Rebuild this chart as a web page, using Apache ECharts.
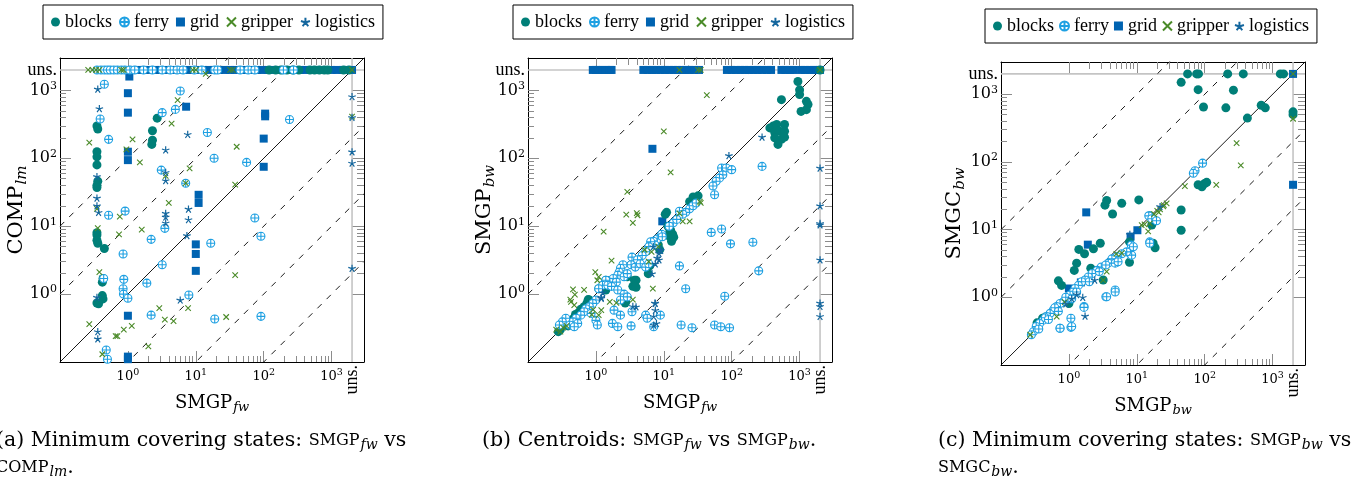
<!DOCTYPE html>
<html>
<head>
<meta charset="utf-8">
<script src="https://cdn.jsdelivr.net/npm/echarts@6/dist/echarts.min.js"></script>
<style>
  html, body { margin: 0; padding: 0; background: #fff; }
  #chart { width: 1353px; height: 478px; }
</style>
</head>
<body>
<div id="chart"></div>
<script>
// "uns." (unsolved) is drawn at this value on both axes
var U = 2000;

// ---- panel (a): SMGP_fw vs COMP_lm ----
var aBlocks = [[0.35,300],[0.36,270],[0.35,125],[0.35,105],[0.35,80],[0.36,46],[0.35,40],[0.35,37],[0.35,8],[0.35,7.4],
  [0.35,6.2],[0.36,5.6],[0.45,4.7],[0.43,1.7],[0.42,1.5],[0.42,0.95],[0.43,0.85],[0.35,0.74],[0.37,0.72],
  [2.7,390],[2.3,255],[2.3,185],[2.25,160],
  [120,U],[150,U],[180,U],[220,U],[270,U],[330,U],[480,U],[560,U],[660,U],[780,U],[880,U],[1500,U],[1800,U]];
var aFerry = [[0.45,1230],[0.39,380],[0.52,190],[5.9,980],[3.2,470],[5.0,525],[14.8,240],[18.6,100],[56,87],[240,372],
  [3.1,67],[7.1,43],[0.52,14.5],[0.91,16.7],[3.5,9.3],[2.2,6.4],[0.85,3.9],[16.6,5.6],[74,13.2],[91,7.1],[3.2,2.7],
  [0.44,1.7],[0.87,1.65],[0.85,1.2],[0.86,1.0],[1.0,0.87],[1.9,1.45],[7.9,0.97],[2.2,0.49],[19,0.43],[91,0.47],
  [0.48,0.15],[0.5,0.11],
  [0.35,U],[0.4,U],[0.45,U],[0.5,U],[0.55,U],[0.62,U],[0.7,U],[0.8,U],[0.9,U],
  [1.07,U],[1.26,U],[1.7,U],[2.3,U],[3.2,U],[4.2,U],[5.3,U],[6.5,U],[9.5,U],[12.3,U],[19,U],[21,U],
  [45,U],[59,U],[74,U],[195,U],[275,U]];
var aGrid = [[1.05,1600],[1.0,910],[1.0,470],[1.0,125],[1.0,94],[7.2,575],[11,29],[11,22],[10,5.4],[10,3.9],[10,2.2],
  [105,415],[105,455],[100,195],[100,75],[1.0,0.48],[1.0,0.12],[1.0,0.11],
  [1,U],[1.2,U],[1.45,U],[1.7,U],[2.1,U],[2.5,U],[3,U],[3.6,U],[4.3,U],[5.2,U],[6.2,U],[7.5,U],[9,U],[11,U],[13,U],
  [15.5,U],[18.5,U],[22,U],[27,U],[32,U],[38,U],[46,U],[55,U],[66,U],[80,U],[95,U],[115,U],[135,U],[165,U],[200,U],
  [240,U],[285,U],[340,U],[410,U],[490,U],[590,U],[700,U],[840,U],[1000,U],[1200,U],[1450,U],[1750,U],[2000,U]];
var aGripper = [[14,1750],[5.4,720],[4.4,325],[0.27,170],[1.17,190],[0.95,135],[1.5,87],[3.6,55],[8.1,71],[7.1,43],[4,22],
  [40,148],[38,41],[0.35,18],[0.36,9.4],[0.76,13.8],[1.6,8.9],[0.74,7.6],[0.38,2.1],[38,1.9],[0.27,0.36],[0.42,0.13],
  [0.66,0.24],[0.7,0.24],[0.87,0.3],[1.14,0.34],[2,0.17],[2.9,0.62],[3.5,0.42],[4.7,0.4],[7.7,0.62],[28,0.46],[U,410],
  [0.26,U],[0.3,U],[0.34,U],[0.38,U],[0.8,U],[0.86,U],[9,U],[10,U],[32,U],[35,U],[U,U]];
var aLogistics = [[0.36,1050],[0.38,540],[7.6,225],[3.6,133],[0.35,54],[3.6,62],[3.6,47],[0.35,26],[0.35,20],[0.37,16],
  [3.6,15.5],[3.6,13.7],[3.6,11.2],[7.8,17.9],[7.8,12.5],[7.4,7.3],[5.9,0.82],[0.35,0.9],[0.36,0.28],[0.36,0.22],
  [U,810],[U,125],[U,85],[U,2.4],[U,400]];

// ---- panel (b): SMGP_fw vs SMGP_bw ----
var bBlocks = [[944,1350],[1000,1020],[1000,870],[540,730],[1260,690],[1330,620],[1260,520],[1050,490],
  [365,280],[410,300],[460,315],[600,315],[430,240],[500,250],[600,250],[430,200],[540,190],[480,160],[600,205],[U,U],
  [32,28],[29,26],[24,23],[27,27],[11,16],[11.5,10],[12.3,8.4],[12.3,7],[13,6],[8.7,4.5],[8.3,5.3],[6.2,2.6],[5.9,2.0],
  [3.7,1.6],[3.5,1.3],[1.4,1.6],[1.3,1.3],[1.4,1.15],[2.7,0.74],[0.77,0.83],[0.74,0.74],[0.55,0.53],[0.42,0.37],
  [0.39,0.34],[0.3,0.3],[0.28,0.28],[10.5,15],[12.6,8.7],[13.5,7.6],[14,6.9],[2.9,1.8],[3.9,1.6],[3.9,1.26],
  [2.75,0.77],[1.3,1.35],[1.1,1.2],[0.8,0.82],[0.67,0.65],[0.6,0.6],[0.5,0.5],[0.47,0.44],[0.4,0.4],[0.36,0.37]];
var bFerry = [[280,76],[71,72],[83,72],[100,68],[74,57],[66,51],[59,46],[53,39],[56,29],[24,18],[21,16],[27,20],[30,22],
  [17,16.6],[19,15],[50,8.1],[71,9.1],[96,5.5],[205,5.8],[250,2.2],[17,2.6],[21,1.2],[79,0.93],[18,0.35],[26,0.32],
  [56,0.35],[69,0.33],[93,0.32],[9.3,7.6],[13.8,11.2],[15.5,12.6],[12,10],[8,6.5],[7,6],[7.4,5.3],
  [9.5,7],[6.4,5.9],[6,5],[5.4,4.2],[4.8,3.7],[3.4,3.5],[4.1,3.2],[3.3,2.7],[3.8,2.5],[4.5,2.8],[5.4,2.5],[6,2.8],
  [2.5,2.7],[2.3,2.4],[2.2,2.1],[2.1,1.9],[1.8,1.7],[1.6,1.5],[2,1.5],[2.6,1.8],[2.9,2],[1.4,1.6],[1.25,1.35],
  [1.1,1.2],[1.5,1.35],[1.7,1.3],[2.1,1.15],[2.6,1.0],[2.3,0.82],[2.9,0.91],[1,0.82],[0.9,0.73],[0.8,0.65],
  [0.71,0.61],[0.67,0.55],[0.6,0.49],[0.51,0.44],[0.46,0.39],[0.41,0.35],[0.54,0.37],[0.48,0.33],[0.85,0.52],
  [1,0.41],[1.05,0.35],[1.85,0.58],[2.3,0.49],[3.4,0.55],[5.4,0.49],[5.7,0.44],[8.9,0.49],[1.75,0.37],[2.1,0.33],
  [3.3,0.34],[7.1,0.33],[0.36,0.44],[0.32,0.39],[0.29,0.35]];
var bGrid = [[6.8,138],[9.5,11.8],[1.6,1.6],
  [0.9,U],[1.0,U],[1.1,U],[1.25,U],[1.4,U],[1.6,U],[1.7,U],
  [5,U],[5.8,U],[6.7,U],[7.7,U],[9,U],[10.4,U],[12,U],[14,U],[16,U],[18.5,U],[21,U],[24,U],[28,U],[33,U],
  [85,U],[100,U],[115,U],[135,U],[155,U],[180,U],[210,U],[240,U],[280,U],[330,U],[380,U],
  [540,U],[620,U],[720,U],[810,U],[1050,U],[1200,U],[1400,U],[1600,U],[1800,U],[2000,U]];
var bGripper = [[17,U],[32,U],[35,U],[U,U],[43,850],[10,250],[12.6,62],[2.9,32],[2.8,14.8],[4,15.6],[3.5,11.2],[4.1,14.5],
  [1.3,8.3],[1.7,3.1],[0.98,2.1],[1.1,1.8],[1.05,1.6],[0.46,1.17],[0.49,0.98],[0.42,0.83],[17,15.5],[19,11.8],
  [24,11.8],[34,23],[35,22],[8.3,5],[6,3],[0.26,0.3],[0.3,0.28],[0.33,0.32],[0.37,0.34],[0.87,0.5],[0.91,0.59],
  [2,0.74],[3.5,0.83],[6.9,1.2],[5.2,4.5],[6.6,4.2],[0.67,1.15],[0.43,0.77],[0.48,0.69],[1.6,0.77],[1.2,0.58],[1.1,0.49]];
var bLogistics = [[280,206],[91,110],[U,72],[U,20],[U,11],[U,10.5],[U,3.2],[U,0.74],[U,0.66],[U,0.47],[3.5,0.66],
  [7.4,0.74],[7.8,0.37],[8.9,4.5],[8.5,4],[8,3.4],[7.5,2.8],[7,5],[1.26,1.05],[1.2,0.87],[3.9,0.65],[7.5,0.73],
  [7.5,0.58],[7.1,0.47],[7.1,0.35],[9,4.4],[8.5,3.2],[6.7,2],[1.2,0.9]];

// ---- panel (c): SMGP_bw vs SMGC_bw ----
var cBlocks = [[56,U],[76,U],[81,U],[218,U],[370,U],[1300,U],[1450,U],
  [45,1500],[80,1170],[96,650],[205,630],[265,1150],[425,445],[680,690],[780,630],[U,550],[U,500],
  [80,46],[91,43],[100,48],[107,50],[45,19.5],[45,9.8],[10.7,27.5],[6,24.5],[3.6,27],[3.4,23],[4.4,17],[2.9,6.3],
  [2.3,5.2],[1.4,5.1],[1.7,4.4],[1.3,3.2],[1.2,2.5],[2.1,2.7],[0.7,1.75],[0.78,1.5],[15.5,16],[16.6,11.7],[17.4,6.3],
  [18.6,5.4],[7.8,3.3],[7.8,6.6],[3.2,1.8],[0.45,0.51],[0.34,0.42],[0.41,0.49],[0.98,0.98],[1.0,0.81]];
var cFerry = [[93,96],[72,74],[68,68],[15,16],[16.6,14.5],[19.5,13.5],[15.5,6.6],[15.5,6.3],[8.3,5.9],[8.3,4.2],
  [4.8,1.28],[3.5,1.02],[5,3.3],[1.67,0.73],[0.74,0.35],[1.07,0.36],
  [8.9,5.6],[8.4,4.2],[7.1,4.7],[6,4.4],[5.1,4],[4.3,3.7],[3.8,3.2],[3.0,2.8],[2.6,2.5],[2.2,2.25],[1.93,2.0],
  [1.73,1.8],[1.54,1.7],[1.38,1.5],[1.23,1.35],[1.16,1.2],[1.04,1.08],[0.93,0.96],[0.83,0.86],[0.74,0.81],
  [0.66,0.73],[0.59,0.65],[0.53,0.58],[0.47,0.52],[0.42,0.46],[0.37,0.41],[0.33,0.37],[0.3,0.31],[0.28,0.28],
  [3.6,1.02],[4.8,1.2],[1.67,0.71],[1.07,0.49],[0.74,0.35],[1.1,0.37],[4.8,3.2],[5.3,3.35],
  [0.9,1.0],[0.62,0.7],[0.45,0.5],[0.5,0.47],[0.36,0.34],[1.3,1.2],[2.0,1.7],[2.8,2.4],[3.5,3.0],[1.1,0.95],[0.7,0.62]];
var cGrid = [[U,U],[U,46],[1.8,18],[1.9,6],[10.2,9.8],[8.1,7.9],[1.0,1.35],[1.5,1.66]];
var cGripper = [[U,U],[U,435],[295,190],[340,89],[148,46],[51,44],[27.5,24.5],[24.5,22],[22,20],[21,18],[25,23],
  [15.5,12.3],[14.7,9.4],[11.8,11.7],[6,4.5],[5,4.4],[3.6,2.4],[3.2,1.8],[0.66,0.52],[0.27,0.28],[0.87,0.85],
  [18,17],[20,19],[13,12]];
var cLogistics = [[1.73,0.53],[1.6,1.0],[2.4,1.8],[7.9,8.5],[22,22],[1.1,0.96],[1.3,1.1],[0.9,0.8]];

var names = ['blocks', 'ferry', 'grid', 'gripper', 'logistics'];
var decades = [0, 1, 2, 3];
var minorMult = [2, 3, 4, 5, 6, 7, 8, 9];
var dashOffsets = [2, 1, -1, -2, -3];   // y = x * 10^k

var SERIF = '"Liberation Serif", serif';
var WIDE = '"DejaVu Serif", serif';
var LMIN = -1, LMAX = Math.log10(3000), LU = Math.log10(U);

function L(v) { return Math.log10(v); }
function pts(arr) { return arr.map(function (p) { return [L(p[0]), L(p[1])]; }); }

var minorTicks = [];
[0, 1, 2].forEach(function (d) {
  minorMult.forEach(function (m) { minorTicks.push(d + L(m)); });
});

var panels = [
  { left: 60, top: 58, w: 304, h: 304, xName: 'SMGP{sub|fw}', yName: 'COMP{sub|lm}', yGap: 30,
    data: { blocks: aBlocks, ferry: aFerry, grid: aGrid, gripper: aGripper, logistics: aLogistics } },
  { left: 528, top: 58, w: 304, h: 304, xName: 'SMGP{sub|fw}', yName: 'SMGP{sub|bw}', yGap: 30,
    data: { blocks: bBlocks, ferry: bFerry, grid: bGrid, gripper: bGripper, logistics: bLogistics } },
  { left: 1001, top: 62, w: 304, h: 303, xName: 'SMGP{sub|bw}', yName: 'SMGC{sub|bw}', yGap: 33,
    data: { blocks: cBlocks, ferry: cFerry, grid: cGrid, gripper: cGripper, logistics: cLogistics } }
];

var styles = {
  blocks: { symbol: 'circle', symbolSize: 9, itemStyle: { color: '#007f78', opacity: 1 } },
  ferry: { symbol: 'path://M-1,0A1,1 0 1,1 1,0A1,1 0 1,1 -1,0ZM-1,0L1,0M0,-1L0,1', symbolSize: 8,
    itemStyle: { color: '#fff', borderColor: '#1ea0e2', borderWidth: 1.1, opacity: 1 } },
  grid: { symbol: 'rect', symbolSize: 8, itemStyle: { color: '#0063b1', opacity: 1 } },
  gripper: { symbol: 'path://M-1,-1L1,1M-1,1L1,-1', symbolSize: 5.5,
    itemStyle: { color: '#4a8a28', borderColor: '#4a8a28', borderWidth: 1.1, opacity: 1 } },
  logistics: { symbol: 'path://M0,0L0,-1M0,0L0.951,-0.309M0,0L0.588,0.809M0,0L-0.588,0.809M0,0L-0.951,-0.309',
    symbolSize: 7.5, symbolKeepAspect: true,
    itemStyle: { color: '#15679e', borderColor: '#15679e', borderWidth: 1.2, opacity: 1 } }
};
var drawOrder = ['grid', 'blocks', 'ferry', 'gripper', 'logistics'];

function nameStyle(size) {
  return { fontFamily: WIDE, fontSize: size, color: '#000',
    rich: { sub: { fontFamily: WIDE, fontSize: Math.round(size * 0.72), fontStyle: 'italic', color: '#000',
      padding: [Math.round(size * 0.5), 0, 0, 1] } } };
}
function tickLabel(size, supSize) {
  return {
    show: true, fontFamily: WIDE, fontSize: size, color: '#000',
    formatter: function (v) {
      if (v > 3.1) return '{u|uns.}';
      return '10{sup|' + Math.round(v) + '}';
    },
    rich: { sup: { fontFamily: WIDE, fontSize: supSize, color: '#000', padding: [0, 0, Math.round(size * 0.55), 0] },
            u: { fontFamily: SERIF, fontSize: 18, color: '#000' } }
  };
}

function axisBase(g, pos, extra) {
  var a = { type: 'value', gridIndex: g, position: pos, min: LMIN, max: LMAX,
    splitLine: { show: false }, axisLine: { show: false, onZero: false },
    axisTick: { show: false }, axisLabel: { show: false } };
  for (var k in extra) a[k] = extra[k];
  return a;
}
var blackLine = { show: true, onZero: false, lineStyle: { color: '#000', width: 1 } };
function ticks(vals, len) {
  return { show: true, inside: true, length: len, customValues: vals, lineStyle: { color: '#8c8c8c', width: 1 } };
}

var grids = [], xAxes = [], yAxes = [], series = [];
panels.forEach(function (p, g) {
  grids.push({ left: p.left, top: p.top, width: p.w, height: p.h });

  var xl = tickLabel(13, 9.5); xl.customValues = decades; xl.margin = 6;
  xAxes.push(axisBase(g, 'bottom', {
    axisLine: blackLine, axisTick: ticks(decades, 11), axisLabel: xl,
    name: p.xName, nameLocation: 'middle', nameGap: 30, nameMoveOverlap: false, nameTextStyle: nameStyle(18) }));
  var xu = tickLabel(13, 9.5); xu.customValues = [LU]; xu.rotate = 90; xu.margin = 3;
  xAxes.push(axisBase(g, 'bottom', { axisTick: ticks(minorTicks, 6), axisLabel: xu }));
  xAxes.push(axisBase(g, 'top', { axisLine: blackLine, axisTick: ticks(decades, 12) }));
  xAxes.push(axisBase(g, 'top', { axisTick: ticks(minorTicks, 7) }));

  var yl = tickLabel(16, 11); yl.customValues = decades.concat([LU]); yl.margin = 3;
  yAxes.push(axisBase(g, 'left', {
    axisLine: blackLine, axisTick: ticks(decades, 11), axisLabel: yl,
    name: p.yName, nameLocation: 'middle', nameGap: p.yGap, nameRotate: 90, nameMoveOverlap: false,
    nameTextStyle: nameStyle(21) }));
  yAxes.push(axisBase(g, 'left', { axisTick: ticks(minorTicks, 6) }));
  yAxes.push(axisBase(g, 'right', { axisLine: blackLine, axisTick: ticks(decades, 12) }));
  yAxes.push(axisBase(g, 'right', { axisTick: ticks(minorTicks, 7) }));

  var xi = 4 * g, yi = 4 * g;
  function line(data, style) {
    series.push({ type: 'line', xAxisIndex: xi, yAxisIndex: yi, data: data, symbol: 'none', silent: true,
      clip: true, lineStyle: style, z: 1 });
  }
  line([[LMIN, LU], [LMAX, LU]], { color: '#c4c4c4', width: 1.6 });
  line([[LU, LMIN], [LU, LMAX]], { color: '#c4c4c4', width: 1.6 });
  line([[LMIN, LMIN], [LMAX, LMAX]], { color: '#000', width: 0.9 });
  dashOffsets.forEach(function (k) {
    line([[LMIN, LMIN + k], [LMAX, LMAX + k]], { color: '#000', width: 0.9, type: [6, 7] });
  });

  drawOrder.forEach(function (n, i) {
    var s = styles[n];
    series.push({ type: 'scatter', name: n, xAxisIndex: xi, yAxisIndex: yi, data: pts(p.data[n]),
      symbol: s.symbol, symbolSize: s.symbolSize, symbolKeepAspect: !!s.symbolKeepAspect,
      itemStyle: s.itemStyle, z: 2 + i, emphasis: { disabled: true }, clip: false });
  });
});

var legendStyle = { fontFamily: SERIF, fontSize: 18, color: '#000' };
var legends = [[43, 5, 7], [513, 5, 7], [985, 9, 5]].map(function (pos) {
  return { left: pos[0], top: pos[1], data: names, itemWidth: 9, itemHeight: 9, itemGap: pos[2],
    padding: [8, 8], borderColor: '#000', borderWidth: 1, selectedMode: false, textStyle: legendStyle };
});

var capStyle = { fontFamily: WIDE, fontSize: 20.5, fontWeight: 'normal', color: '#000', lineHeight: 27,
  rich: { sc: { fontFamily: WIDE, fontSize: 16, color: '#000' },
          sub: { fontFamily: WIDE, fontSize: 14, fontStyle: 'italic', color: '#000', padding: [9, 0, 0, 1] } } };

var chart = echarts.init(document.getElementById('chart'));
chart.setOption({
  animation: false,
  backgroundColor: '#fff',
  title: [
    { left: -4, top: 427, padding: 0, text: '(a) Minimum covering states: {sc|SMGP}{sub|fw} vs\n{sc|COMP}{sub|lm}.', textStyle: capStyle },
    { left: 482, top: 427, padding: 0, text: '(b) Centroids: {sc|SMGP}{sub|fw} vs {sc|SMGP}{sub|bw}.', textStyle: capStyle },
    { left: 938, top: 427, padding: 0, text: '(c) Minimum covering states: {sc|SMGP}{sub|bw} vs\n{sc|SMGC}{sub|bw}.', textStyle: capStyle }
  ],
  legend: legends,
  grid: grids,
  xAxis: xAxes,
  yAxis: yAxes,
  series: series
});
</script>
</body>
</html>
